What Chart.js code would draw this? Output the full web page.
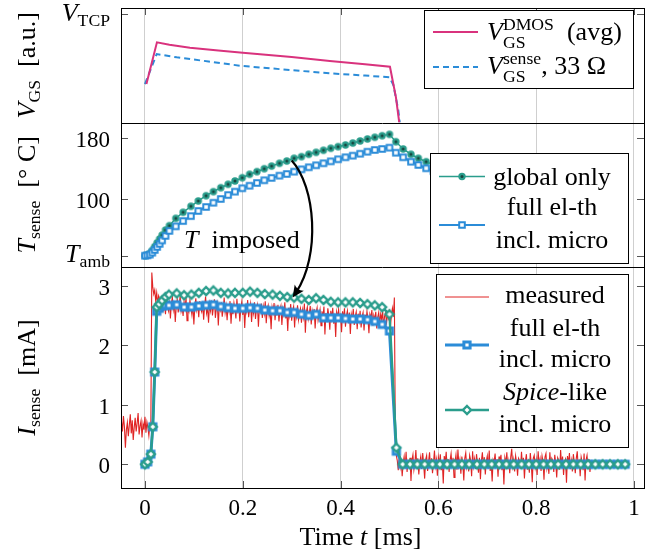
<!DOCTYPE html>
<html>
<head>
<meta charset="utf-8">
<script src="https://cdn.jsdelivr.net/npm/chart.js@4.4.1/dist/chart.umd.min.js"></script>
<style>
  html, body { margin: 0; padding: 0; background: #fff; }
  #wrap { width: 659px; height: 559px; }
</style>
</head>
<body>
<div id="wrap"><canvas id="chart" width="659" height="559"></canvas></div>
<script>
// time axis [ms]
const xTicks = [0, 0.2, 0.4, 0.6, 0.8, 1];

// gate voltage, arbitrary units (V_TCP = clamp level)
const vTcp = 0.948;
const tGateDmos = [0.003, 0.0245, 0.05, 0.092, 0.15, 0.2, 0.3, 0.378, 0.45, 0.501, 0.513, 0.52];
const vGateDmos = [0.336, 0.70, 0.679, 0.653, 0.628, 0.609, 0.571, 0.537, 0.508, 0.487, 0.225, 0];
const tGateSense = [0, 0.024, 0.065, 0.13, 0.194, 0.3, 0.378, 0.45, 0.5, 0.508, 0.518, 0.521];
const vGateSense = [0.336, 0.598, 0.569, 0.533, 0.496, 0.457, 0.43, 0.41, 0.395, 0.328, 0.109, 0];

// sense cell temperature [°C]
const tAmb = 25;
const tempTicks = [tAmb, 100, 180];
const tTemp = [0, 0.005, 0.01, 0.015, 0.02, 0.025, 0.03, 0.035, 0.042, 0.05,
  0.063, 0.078, 0.094, 0.109, 0.125, 0.14, 0.155, 0.17, 0.184, 0.199,
  0.214, 0.229, 0.244, 0.259, 0.275, 0.29, 0.305, 0.32, 0.335, 0.35,
  0.365, 0.38, 0.395, 0.41, 0.425, 0.44, 0.455, 0.47, 0.485, 0.5,
  0.513, 0.528, 0.544, 0.559, 0.575, 0.59, 0.605];
const tempGlobal = [26, 27, 29, 33, 38, 43, 48, 53, 59.7, 65.4,
  75, 83, 90.8, 97.8, 104.7, 110, 115.2, 119.7, 124, 128.3,
  132.8, 136.2, 140.1, 143.5, 147.2, 150.2, 153.8, 155.9, 159, 161.6,
  164.3, 166.9, 169, 171.2, 173.8, 176.5, 179.1, 181.3, 183.4, 185.2,
  175.5, 166, 159, 153.8, 149.3, 145.5, 142.2];
const tempFull = [26, 26.5, 27.5, 30, 33.5, 37.5, 41.5, 46, 52, 58.5,
  64.5, 71.5, 78, 84.7, 89.9, 95.5, 100.4, 105.6, 110, 114.4,
  117.8, 121.4, 124.9, 128, 131, 133.2, 136.2, 139.3, 142, 144.6,
  147.2, 149.8, 152.5, 155.1, 157.2, 159.8, 162.4, 164.7, 166, 167.7,
  161.1, 155.1, 149.3, 145, 140.7, 137, 133.6];

// sense current [mA]
const currentTicks = [0, 1, 2, 3];
const tCurr = [0, 0.0055, 0.012, 0.016, 0.02, 0.024, 0.029, 0.035, 0.042, 0.049,
  0.065, 0.08, 0.095, 0.11, 0.125, 0.14, 0.155, 0.17, 0.184, 0.2,
  0.215, 0.23, 0.245, 0.261, 0.276, 0.291, 0.305, 0.32, 0.335, 0.35,
  0.365, 0.38, 0.395, 0.41, 0.425, 0.44, 0.455, 0.47, 0.485, 0.5,
  0.514, 0.527, 0.542, 0.557, 0.572, 0.588, 0.603, 0.618, 0.633, 0.648,
  0.663, 0.679, 0.694, 0.709, 0.724, 0.739, 0.754, 0.77, 0.785, 0.8,
  0.815, 0.83, 0.845, 0.861, 0.876, 0.891, 0.906, 0.921, 0.936, 0.951,
  0.967, 0.982];
const currFull = [0, 0.04, 0.17, 0.63, 1.55, 2.57, 2.62, 2.66, 2.67, 2.67,
  2.68, 2.64, 2.64, 2.66, 2.67, 2.68, 2.65, 2.63, 2.62, 2.62,
  2.63, 2.62, 2.59, 2.58, 2.58, 2.55, 2.55, 2.52, 2.50, 2.52,
  2.46, 2.46, 2.46, 2.45, 2.44, 2.44, 2.43, 2.40, 2.35, 2.24,
  0.22, 0, 0, 0, 0, 0, 0, 0, 0, 0,
  0, 0, 0, 0, 0, 0, 0, 0, 0, 0,
  0, 0, 0, 0, 0, 0, 0, 0, 0, 0,
  0, 0];
const currSpice = [0, 0.04, 0.17, 0.63, 1.55, 2.64, 2.69, 2.75, 2.81, 2.85,
  2.87, 2.84, 2.85, 2.88, 2.91, 2.92, 2.88, 2.87, 2.88, 2.88,
  2.90, 2.88, 2.86, 2.85, 2.83, 2.81, 2.80, 2.78, 2.76, 2.79,
  2.76, 2.73, 2.72, 2.72, 2.72, 2.71, 2.69, 2.67, 2.64, 2.52,
  0.28, 0, 0, 0, 0, 0, 0, 0, 0, 0,
  0, 0, 0, 0, 0, 0, 0, 0, 0, 0,
  0, 0, 0, 0, 0, 0, 0, 0, 0, 0,
  0, 0];
// scope trace, sampled every 2 us from -48 us
const measStart = -0.048;
const measStep = 0.002;
const currMeasured = [
  // before turn-on
  0.72, 0.55, 0.81, 0.63, 0.28, 0.58, 0.70, 0.47, 0.66, 0.84, 0.52, 0.74, 0.41, 0.62, 0.78, 0.55,
  0.69, 0.86, 0.50, 0.64, 0.73, 0.45, 0.68, 0.58, 0.80, 0.53, 0.71, 0.62, 0.48, 0.66, 0.60,
  // overshoot
  3.22, 2.98, 2.86, 2.93, 2.74, 2.88, 2.69, 2.83, 2.78, 2.62, 2.80,
  // on-state
  2.78, 2.61, 2.70, 2.52, 2.84, 2.66, 2.58, 2.75, 2.45, 2.69, 2.81, 2.60, 2.72, 2.39, 2.66, 2.77, 2.55, 2.68, 2.83, 2.57,
  2.64, 2.49, 2.73, 2.62, 2.80, 2.41, 2.67, 2.58, 2.76, 2.63, 2.51, 2.70, 2.35, 2.65, 2.79, 2.59, 2.68, 2.47, 2.74, 2.61,
  2.56, 2.71, 2.43, 2.66, 2.82, 2.54, 2.63, 2.38, 2.69, 2.58, 2.75, 2.50, 2.64, 2.77, 2.46, 2.62, 2.70, 2.33, 2.67, 2.59,
  2.72, 2.48, 2.61, 2.80, 2.55, 2.66, 2.42, 2.69, 2.57, 2.74, 2.36, 2.63, 2.52, 2.71, 2.60, 2.45, 2.78, 2.58, 2.65, 2.40,
  2.62, 2.73, 2.51, 2.67, 2.29, 2.64, 2.56, 2.76, 2.47, 2.60, 2.70, 2.39, 2.66, 2.54, 2.72, 2.44, 2.61, 2.68, 2.31, 2.63,
  2.57, 2.70, 2.46, 2.65, 2.53, 2.74, 2.37, 2.60, 2.67, 2.49, 2.58, 2.27, 2.64, 2.55, 2.71, 2.42, 2.62, 2.50, 2.68, 2.40,
  2.59, 2.66, 2.34, 2.61, 2.52, 2.72, 2.45, 2.57, 2.24, 2.63, 2.50, 2.69, 2.41, 2.58, 2.65, 2.30, 2.60, 2.48, 2.67, 2.43,
  2.55, 2.62, 2.38, 2.59, 2.47, 2.70, 2.21, 2.56, 2.64, 2.44, 2.53, 2.66, 2.35, 2.58, 2.49, 2.61, 2.28, 2.55, 2.63, 2.42,
  2.51, 2.60, 2.33, 2.57, 2.46, 2.65, 2.18, 2.54, 2.40, 2.62, 2.49, 2.26, 2.58, 2.45, 2.63, 2.36, 2.52, 2.14, 2.56, 2.47,
  2.60, 2.39, 2.53, 2.22, 2.57, 2.44, 2.62, 2.31, 2.50, 2.58, 2.37, 2.55, 2.19, 2.52, 2.43, 2.61, 2.34, 2.49, 2.56, 2.27,
  2.53, 2.41, 2.58, 2.30, 2.48, 2.55, 2.25, 2.51, 2.39, 2.57, 2.44, 2.20, 2.52, 2.46, 2.59, 2.33, 2.50, 2.42, 2.56, 2.28,
  2.47, 2.55, 2.36, 2.52, 2.43, 2.58, 2.29, 2.49, 2.54, 2.38, 2.51, 2.45, 2.60, 2.32, 2.50, 2.62, 2.48, 2.80,
  // turn-off
  0.50, 0.15,
  0.06, -0.10, 0.15, -0.04, 0.09, -0.20, 0.02, 0.13, -0.07, 0.21, -0.13, 0.05, -0.02, 0.11, -0.28, 0.07, 0.16, -0.09, 0.03, 0.24,
  -0.05, 0.10, -0.17, 0.04, 0.13, -0.08, 0.19, -0.01, -0.24, 0.08, 0.15, -0.11, 0.05, 0.20, -0.06, 0.10, -0.15, 0.02, 0.23, -0.03,
  0.08, -0.19, 0.12, 0.01, 0.17, -0.10, 0.06, -0.32, 0.14, 0.03, 0.21, -0.07, 0.09, -0.13, 0.07, 0.18, -0.04, 0.11, -0.22, 0.04,
  0.16, -0.09, 0.25, -0.02, 0.08, -0.16, 0.13, 0.01, -0.27, 0.10, 0.19, -0.05, 0.04, -0.12, 0.15, 0.07, -0.20, 0.22, -0.03, 0.09,
  -0.08, 0.17, 0.02, -0.14, 0.11, -0.25, 0.06, 0.20, -0.04, 0.12, -0.17, 0.05, 0.14, -0.07, 0.23, -0.11, 0.03, -0.29, 0.08, 0.04,
  0.18, -0.06, 0.09, -0.21, 0.13, 0.00, 0.16, -0.10, 0.07, -0.34, 0.11, 0.02, 0.20, -0.08, 0.05, -0.15, 0.12, 0.26, -0.03, 0.08,
  -0.12, 0.14, 0.03, -0.19, 0.10, 0.06, -0.07, 0.21, -0.02, 0.11, -0.24, 0.05, 0.17, -0.09, 0.08, -0.14, 0.19, 0.01, -0.30, 0.10,
  0.15, -0.05, 0.07, -0.18, 0.22, -0.01, 0.09, -0.11, 0.14, 0.04, -0.26, 0.12, 0.18, -0.07, 0.03, -0.16, 0.20, -0.04, 0.10, 0.06,
  -0.13, 0.16, 0.02, -0.22, 0.11, 0.07, -0.09, 0.24, -0.03, 0.13, -0.18, 0.05, 0.09, -0.31, 0.14, 0.01, 0.19, -0.08, 0.06, -0.12,
  0.17, 0.03, -0.15, 0.10, 0.22, -0.06, 0.08, -0.20, 0.12, 0.04, -0.10, 0.18, -0.27, 0.07, 0.15, -0.05, 0.09, -0.13, 0.05, 0.02,
  0.03
];

// "T imposed" arrow: from the global-only temperature to the Spice-like current
const arrowFrom = [0.30, 151];
const arrowTo = [0.302, 2.80];

const TEAL = '#2a9d8c', TEAL_DARK = '#17463f', BLUE = '#2b8cd8', PINK = '#d9327d', RED = '#e02424';
const FONT = '"Liberation Serif", "Times New Roman", serif';

const pts = (xs, ys) => ys.map((y, i) => ({x: xs[i], y}));

// marker shapes, shared by the datasets and the legends
function drawDot(ctx, x, y) {
  ctx.beginPath(); ctx.arc(x, y, 3.7, 0, 2 * Math.PI);
  ctx.fillStyle = TEAL; ctx.fill();
  ctx.beginPath(); ctx.arc(x, y, 1.5, 0, 2 * Math.PI);
  ctx.fillStyle = TEAL_DARK; ctx.fill();
}
function drawSquare(ctx, x, y, half, lw) {
  ctx.beginPath(); ctx.rect(x - half, y - half, 2 * half, 2 * half);
  ctx.fillStyle = '#fff'; ctx.fill();
  ctx.lineWidth = lw; ctx.strokeStyle = BLUE; ctx.stroke();
}
function drawDiamond(ctx, x, y, r, lw) {
  ctx.beginPath();
  ctx.moveTo(x, y - r); ctx.lineTo(x + r, y); ctx.lineTo(x, y + r); ctx.lineTo(x - r, y); ctx.closePath();
  ctx.fillStyle = '#fff'; ctx.fill();
  ctx.lineWidth = lw; ctx.strokeStyle = TEAL; ctx.stroke();
}
function markerCanvas(draw) {
  const c = document.createElement('canvas');
  c.width = 14; c.height = 14;
  draw(c.getContext('2d'), 7, 7);
  return c;
}
const dotImg = markerCanvas((c, x, y) => drawDot(c, x, y));
const squareSmallImg = markerCanvas((c, x, y) => drawSquare(c, x, y, 2.8, 2));
const squareBigImg = markerCanvas((c, x, y) => drawSquare(c, x, y, 3.1, 3));
const diamondImg = markerCanvas((c, x, y) => drawDiamond(c, x, y, 4, 2.4));

// text with italic parts and sub/superscripts
function setFont(ctx, size, italic) {
  ctx.font = (italic ? 'italic ' : '') + size + 'px ' + FONT;
}
function runWidth(ctx, r, size) {
  if (r.t !== undefined) { setFont(ctx, size, r.i); return ctx.measureText(r.t).width; }
  setFont(ctx, size * 0.68, false);
  return Math.max(r.sub ? ctx.measureText(r.sub).width : 0, r.sup ? ctx.measureText(r.sup).width : 0);
}
function drawText(ctx, runs, x, y, size, align) {
  const w = runs.reduce((s, r) => s + runWidth(ctx, r, size), 0);
  let cx = align === 'center' ? x - w / 2 : align === 'right' ? x - w : x;
  ctx.textAlign = 'left';
  ctx.textBaseline = 'alphabetic';
  ctx.fillStyle = '#000';
  for (const r of runs) {
    const rw = runWidth(ctx, r, size);
    if (r.t !== undefined) {
      setFont(ctx, size, r.i);
      ctx.fillText(r.t, cx, y);
    } else {
      setFont(ctx, size * 0.68, false);
      if (r.sub) ctx.fillText(r.sub, cx, y + size * (r.sup ? 0.3 : 0.18));
      if (r.sup) ctx.fillText(r.sup, cx, y - size * 0.38);
    }
    cx += rw;
  }
}

function legendBox(ctx, x0, y0, x1, y1) {
  ctx.fillStyle = '#fff';
  ctx.fillRect(x0, y0, x1 - x0, y1 - y0);
  ctx.strokeStyle = '#000'; ctx.lineWidth = 1; ctx.setLineDash([]);
  ctx.strokeRect(Math.round(x0) + 0.5, Math.round(y0) + 0.5, Math.round(x1 - x0), Math.round(y1 - y0));
}
function sampleLine(ctx, x0, x1, y, color, lw, dash) {
  ctx.beginPath(); ctx.moveTo(x0, y); ctx.lineTo(x1, y);
  ctx.strokeStyle = color; ctx.lineWidth = lw; ctx.setLineDash(dash || []);
  ctx.stroke(); ctx.setLineDash([]);
}

const panelDecor = {
  id: 'panelDecor',
  afterDraw(chart) {
    const {ctx, chartArea: a, scales: {x, yV, yT, yI}} = chart;
    const L = 26, TICK = 23;
    ctx.save();

    // inward tick marks
    ctx.strokeStyle = '#555'; ctx.lineWidth = 1;
    ctx.beginPath();
    for (const v of xTicks) {
      const px = Math.round(x.getPixelForValue(v)) + 0.5;
      ctx.moveTo(px, a.top); ctx.lineTo(px, a.top + 7);
      ctx.moveTo(px, a.bottom); ctx.lineTo(px, a.bottom - 7);
    }
    for (const [s, vals] of [[yV, [vTcp]], [yT, tempTicks], [yI, currentTicks]]) {
      for (const v of vals) {
        const py = Math.round(s.getPixelForValue(v)) + 0.5;
        ctx.moveTo(a.left, py); ctx.lineTo(a.left + 7, py);
        ctx.moveTo(a.right, py); ctx.lineTo(a.right - 7, py);
      }
    }
    ctx.stroke();

    // tick labels
    const lx = a.left - 11;
    drawText(ctx, [{t: 'V', i: true}, {sub: 'TCP'}], lx, yV.getPixelForValue(vTcp) + 7, L, 'right');
    for (const v of tempTicks) {
      const py = yT.getPixelForValue(v);
      if (v === tAmb) drawText(ctx, [{t: 'T', i: true}, {sub: 'amb'}], lx, py + 6, L, 'right');
      else drawText(ctx, [{t: String(v)}], lx, py + 9, TICK, 'right');
    }
    for (const v of currentTicks) {
      drawText(ctx, [{t: String(v)}], lx, yI.getPixelForValue(v) + 9, TICK, 'right');
    }
    for (const v of xTicks) {
      drawText(ctx, [{t: String(v)}], x.getPixelForValue(v), a.bottom + 27, TICK, 'center');
    }

    // axis titles
    drawText(ctx, [{t: 'Time '}, {t: 't', i: true}, {t: ' [ms]'}], a.left + (a.right - a.left) * 0.458, a.bottom + 57, L, 'center');
    const titles = [
      [yV, [{t: 'V', i: true}, {sub: 'GS'}, {t: '  [a.u.]'}]],
      [yT, [{t: 'T', i: true}, {sub: 'sense'}, {t: '  [° C]'}]],
      [yI, [{t: 'I', i: true}, {sub: 'sense'}, {t: '  [mA]'}]]
    ];
    for (const [s, runs] of titles) {
      ctx.save();
      ctx.translate(35, (s.top + s.bottom) / 2);
      ctx.rotate(-Math.PI / 2);
      drawText(ctx, runs, 0, 0, L, 'center');
      ctx.restore();
    }

    // annotation: T imposed, with the curved arrow into the current panel
    drawText(ctx, [{t: 'T', i: true}, {t: '  imposed'}], x.getPixelForValue(0.08), yT.getPixelForValue(36), L, 'left');
    const p0 = {x: x.getPixelForValue(arrowFrom[0]), y: yT.getPixelForValue(arrowFrom[1])};
    const p3 = {x: x.getPixelForValue(arrowTo[0]), y: yI.getPixelForValue(arrowTo[1])};
    const c1 = {x: p0.x + 24, y: p0.y + 26};
    const c2 = {x: p3.x + 28, y: p3.y - 42};
    const ang = Math.atan2(p3.y - c2.y, p3.x - c2.x);
    ctx.strokeStyle = '#000'; ctx.lineWidth = 2.2;
    ctx.beginPath();
    ctx.moveTo(p0.x, p0.y);
    ctx.bezierCurveTo(c1.x, c1.y, c2.x, c2.y, p3.x - Math.cos(ang) * 6, p3.y - Math.sin(ang) * 6);
    ctx.stroke();
    ctx.save();
    ctx.translate(p3.x, p3.y); ctx.rotate(ang);
    ctx.beginPath();
    ctx.moveTo(0, 0); ctx.lineTo(-12, -5.5); ctx.quadraticCurveTo(-8, 0, -12, 5.5); ctx.closePath();
    ctx.fillStyle = '#000'; ctx.fill();
    ctx.restore();

    // legend: gate voltage
    let t = yV.top, r = a.right;
    legendBox(ctx, r - 220, t + 2, r - 11, t + 80);
    sampleLine(ctx, r - 211, r - 166, t + 24, PINK, 2);
    sampleLine(ctx, r - 211, r - 166, t + 59, BLUE, 2, [6, 4]);
    drawText(ctx, [{t: 'V', i: true}, {sub: 'GS', sup: 'DMOS'}, {t: '  (avg)'}], r - 157, t + 32, L, 'left');
    drawText(ctx, [{t: 'V', i: true}, {sub: 'GS', sup: 'sense'}, {t: ', 33 Ω'}], r - 157, t + 66, L, 'left');

    // legend: temperature
    t = yT.top;
    legendBox(ctx, r - 214, t + 30.5, r - 16, t + 140.5);
    sampleLine(ctx, r - 205, r - 159, t + 54, TEAL, 1.5);
    drawDot(ctx, r - 182, t + 54);
    sampleLine(ctx, r - 205, r - 159, t + 102.5, BLUE, 2);
    drawSquare(ctx, r - 182, t + 102.5, 2.8, 2);
    drawText(ctx, [{t: 'global only'}], r - 92, t + 62.5, L, 'center');
    drawText(ctx, [{t: 'full el-th'}], r - 92, t + 92.5, L, 'center');
    drawText(ctx, [{t: 'incl. micro'}], r - 92, t + 125.5, L, 'center');

    // legend: current
    t = yI.top;
    legendBox(ctx, r - 208, t + 7, r - 16, t + 180);
    sampleLine(ctx, r - 199, r - 155, t + 30, RED, 1);
    sampleLine(ctx, r - 199, r - 155, t + 78, BLUE, 3);
    drawSquare(ctx, r - 177, t + 78, 3.1, 3);
    sampleLine(ctx, r - 199, r - 155, t + 143, TEAL, 2.4);
    drawDiamond(ctx, r - 177, t + 143, 4, 2.4);
    drawText(ctx, [{t: 'measured'}], r - 89, t + 36, L, 'center');
    drawText(ctx, [{t: 'full el-th'}], r - 89, t + 69, L, 'center');
    drawText(ctx, [{t: 'incl. micro'}], r - 89, t + 100, L, 'center');
    drawText(ctx, [{t: 'Spice', i: true}, {t: '-like'}], r - 89, t + 133, L, 'center');
    drawText(ctx, [{t: 'incl. micro'}], r - 89, t + 165, L, 'center');

    // frame and panel separators
    ctx.strokeStyle = '#000'; ctx.lineWidth = 1;
    ctx.strokeRect(Math.round(a.left) + 0.5, Math.round(a.top) + 0.5, Math.round(a.right - a.left), Math.round(a.bottom - a.top));
    ctx.beginPath();
    for (const s of [yV, yT]) {
      const py = Math.round(s.bottom) + 0.5;
      ctx.moveTo(a.left, py); ctx.lineTo(a.right, py);
    }
    ctx.stroke();
    ctx.restore();
  }
};

const yAxis = (weight, min, max) => ({
  type: 'linear', position: 'left', stack: 'panels', stackWeight: weight,
  min, max,
  ticks: {display: false},
  grid: {display: false},
  border: {display: false},
  afterFit: s => { s.width = 121; }
});

new Chart(document.getElementById('chart'), {
  type: 'line',
  data: {
    datasets: [
      {data: pts(tGateDmos, vGateDmos), yAxisID: 'yV', borderColor: PINK, borderWidth: 2, pointRadius: 0, order: 0},
      {data: pts(tGateSense, vGateSense), yAxisID: 'yV', borderColor: BLUE, borderWidth: 2, borderDash: [6, 4], pointRadius: 0, order: 1},
      {data: pts(tTemp, tempFull), yAxisID: 'yT', borderColor: BLUE, borderWidth: 2, pointStyle: squareSmallImg, pointRadius: 4, order: 0},
      {data: pts(tTemp, tempGlobal), yAxisID: 'yT', borderColor: TEAL, borderWidth: 1.5, pointStyle: dotImg, pointRadius: 4, order: 1},
      {data: pts(tCurr, currSpice), yAxisID: 'yI', borderColor: TEAL, borderWidth: 2.4, pointStyle: diamondImg, pointRadius: 4, order: 0},
      {data: pts(tCurr, currFull), yAxisID: 'yI', borderColor: BLUE, borderWidth: 3, pointStyle: squareBigImg, pointRadius: 4, order: 1},
      {data: currMeasured.map((y, i) => ({x: measStart + i * measStep, y})), yAxisID: 'yI', borderColor: RED, borderWidth: 1.1, pointRadius: 0, order: 2}
    ]
  },
  options: {
    responsive: false,
    animation: false,
    devicePixelRatio: 1,
    events: [],
    layout: {padding: {top: 8, right: 15, bottom: 0, left: 0}},
    elements: {line: {tension: 0}},
    plugins: {legend: {display: false}, tooltip: {enabled: false}},
    scales: {
      x: {
        type: 'linear', min: -0.049, max: 1.0205,
        afterBuildTicks: s => { s.ticks = xTicks.map(v => ({value: v})); },
        ticks: {display: false},
        grid: {color: '#cfcfcf', lineWidth: 1, drawTicks: false},
        border: {display: false},
        afterFit: s => { s.height = 71; }
      },
      // stacked left axes are laid out bottom-up in this order
      yI: yAxis(221, -0.398, 3.314),
      yT: yAxis(144.5, 11.2, 200.7),
      yV: yAxis(114.5, 0, 1)
    }
  },
  plugins: [panelDecor]
});
</script>
</body>
</html>
